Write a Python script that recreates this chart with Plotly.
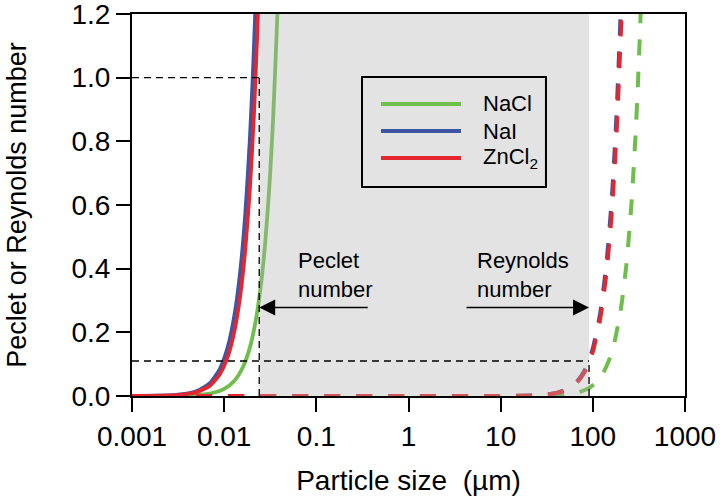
import plotly.graph_objects as go
import math

# ---------------- data ----------------
salts = ["NaCl", "NaI", "ZnCl<sub>2</sub>"]
colors = {"NaCl": "#6dbe4b", "NaI": "#3d55a5", "ZnCl<sub>2</sub>": "#e5262e"}

# Peclet number (solid curves)
pe_nacl_d = [0.001, 0.004, 0.007, 0.010, 0.013, 0.016, 0.019, 0.022, 0.025, 0.028, 0.031, 0.034, 0.0378, 0.040]
pe_nacl_v = [0.0, 0.0014, 0.0076, 0.0222, 0.0488, 0.091, 0.152, 0.237, 0.347, 0.488, 0.662, 0.873, 1.20, 1.42]

pe_nai_d = [0.001, 0.003, 0.005, 0.007, 0.009, 0.011, 0.013, 0.015, 0.017, 0.019, 0.0205, 0.0217, 0.023]
pe_nai_v = [0.0, 0.0032, 0.0147, 0.0403, 0.0856, 0.156, 0.258, 0.396, 0.577, 0.806, 1.012, 1.20, 1.43]

pe_zncl_d = [0.001, 0.003, 0.005, 0.007, 0.009, 0.011, 0.013, 0.015, 0.017, 0.019, 0.021, 0.0233, 0.025]
pe_zncl_v = [0.0, 0.0026, 0.0119, 0.0325, 0.0692, 0.126, 0.208, 0.320, 0.466, 0.651, 0.879, 1.20, 1.48]

# Reynolds number (dashed curves)
re_nacl_d = [0.001, 1, 10, 30, 50, 70, 90, 110, 130, 150, 170, 200, 230, 260, 290, 310, 330, 350]
re_nacl_v = [0.0, 0.0, 0.0, 0.0009, 0.0042, 0.0115, 0.0243, 0.0444, 0.0734, 0.113, 0.164, 0.267, 0.406, 0.587, 0.814, 0.995, 1.20, 1.43]

re_nai_d = [0.001, 1, 10, 20, 30, 40, 50, 60, 70, 80, 90, 100, 120, 140, 160, 180, 200, 215]
re_nai_v = [0.0, 0.0, 0.0002, 0.0012, 0.0041, 0.0096, 0.0188, 0.0324, 0.0515, 0.0768, 0.109, 0.150, 0.259, 0.412, 0.614, 0.875, 1.20, 1.49]

re_zncl_d = [0.001, 1, 10, 20, 30, 40, 50, 60, 70, 80, 90, 100, 120, 140, 160, 180, 205, 220]
re_zncl_v = [0.0, 0.0, 0.0001, 0.0011, 0.0038, 0.0089, 0.0174, 0.0301, 0.0478, 0.0713, 0.1015, 0.139, 0.241, 0.382, 0.571, 0.812, 1.20, 1.48]

# reference markers
pe_limit_size = 0.024     # lower bound of shaded band
re_limit_size = 91        # upper bound of shaded band
pe_level = 1.0
re_level = 0.11
arrow_level = 0.278

x_ticks = [0.001, 0.01, 0.1, 1, 10, 100, 1000]
x_tick_labels = ["0.001", "0.01", "0.1", "1", "10", "100", "1000"]
y_ticks = [0.0, 0.2, 0.4, 0.6, 0.8, 1.0, 1.2]

FONT = "Liberation Sans, Arial, Helvetica, sans-serif"

fig = go.Figure()

solid = [("NaCl", pe_nacl_d, pe_nacl_v), ("NaI", pe_nai_d, pe_nai_v), ("ZnCl<sub>2</sub>", pe_zncl_d, pe_zncl_v)]
dashed = [("NaCl", re_nacl_d, re_nacl_v), ("NaI", re_nai_d, re_nai_v), ("ZnCl<sub>2</sub>", re_zncl_d, re_zncl_v)]

for name, d, v in solid:
    fig.add_trace(go.Scatter(x=d, y=v, mode="lines", name=name,
                             line=dict(color=colors[name], width=3.8, shape="spline", smoothing=0.6),
                             showlegend=False))
for name, d, v in dashed:
    fig.add_trace(go.Scatter(x=d, y=v, mode="lines", name=name + " (Re)",
                             line=dict(color=colors[name], width=4, dash="16px,16px", shape="spline", smoothing=0.6),
                             showlegend=False))

# shaded band (drawn above traces, semi-transparent)
fig.add_shape(type="rect", xref="x", yref="y", x0=pe_limit_size, x1=re_limit_size, y0=0, y1=1.2,
              fillcolor="rgba(175,175,175,0.35)", line=dict(width=0), layer="above")

dash_line = dict(color="black", width=1.3, dash="7px,5px")
fig.add_shape(type="line", xref="x", yref="y", x0=0.001, x1=pe_limit_size, y0=pe_level, y1=pe_level, line=dash_line, layer="above")
fig.add_shape(type="line", xref="x", yref="y", x0=pe_limit_size, x1=pe_limit_size, y0=0, y1=pe_level, line=dash_line, layer="above")
fig.add_shape(type="line", xref="x", yref="y", x0=0.001, x1=re_limit_size, y0=re_level, y1=re_level, line=dash_line, layer="above")
fig.add_shape(type="line", xref="x", yref="y", x0=re_limit_size, x1=re_limit_size, y0=0, y1=re_level, line=dash_line, layer="above")

# arrows
fig.add_annotation(x=math.log10(pe_limit_size), y=arrow_level, xref="x", yref="y", text="", showarrow=True,
                   ax=110, ay=0, arrowhead=2, arrowsize=2.0, arrowwidth=1.6, arrowcolor="black")
fig.add_annotation(x=math.log10(re_limit_size), y=arrow_level, xref="x", yref="y", text="", showarrow=True,
                   ax=-124, ay=0, arrowhead=2, arrowsize=2.0, arrowwidth=1.6, arrowcolor="black")
fig.add_annotation(x=0.297, y=0.318, xref="paper", yref="paper", text="Peclet<br>number", showarrow=False,
                   xanchor="left", yanchor="middle", align="left", font=dict(size=22, color="black", family=FONT))
fig.add_annotation(x=0.621, y=0.318, xref="paper", yref="paper", text="Reynolds<br>number", showarrow=False,
                   xanchor="left", yanchor="middle", align="left", font=dict(size=22, color="black", family=FONT))

# legend box (drawn manually to match the reference's proportions)
fig.add_shape(type="rect", xref="paper", yref="paper", x0=0.4159, x1=0.7486, y0=0.5471, y1=0.8351,
              line=dict(color="black", width=2), fillcolor="rgba(0,0,0,0)", layer="above")
legend_rows_y = [0.7644, 0.6937, 0.6230]
for name, ly in zip(salts, legend_rows_y):
    fig.add_shape(type="line", xref="paper", yref="paper", x0=0.4503, x1=0.5949, y0=ly, y1=ly,
                  line=dict(color=colors[name], width=4), layer="above")
    fig.add_annotation(x=0.6311, y=ly, xref="paper", yref="paper", text=name, showarrow=False,
                       xanchor="left", yanchor="middle", font=dict(size=22, color="black", family=FONT))

fig.update_layout(
    width=720, height=502,
    margin=dict(l=132, r=35, t=14, b=106),
    paper_bgcolor="white", plot_bgcolor="white",
    font=dict(family=FONT, size=28, color="black"),
    showlegend=False,
)
fig.update_xaxes(type="log", range=[-3, 3], tickvals=x_ticks, ticktext=x_tick_labels, automargin=False,
                 ticks="outside", ticklen=14, tickwidth=2, tickcolor="black", ticklabeloverflow="allow",
                 showline=True, linewidth=2, linecolor="black", mirror=True,
                 showgrid=False, zeroline=False, tickfont=dict(size=28),
                 title=dict(text="Particle size\u00a0 (µm)", font=dict(size=28), standoff=20))
fig.update_yaxes(range=[0, 1.2], tickvals=y_ticks, tickformat=".1f", automargin=False,
                 ticks="outside", ticklen=14, tickwidth=2, tickcolor="black", ticklabeloverflow="allow",
                 showline=True, linewidth=2, linecolor="black", mirror=True,
                 showgrid=False, zeroline=False, tickfont=dict(size=28),
                 title=dict(text="Peclet or Reynolds number", font=dict(size=27), standoff=37))

fig.write_html("out.html", config={"displayModeBar": False},
               post_script="document.body.style.margin='0';document.body.style.overflow='hidden';")
